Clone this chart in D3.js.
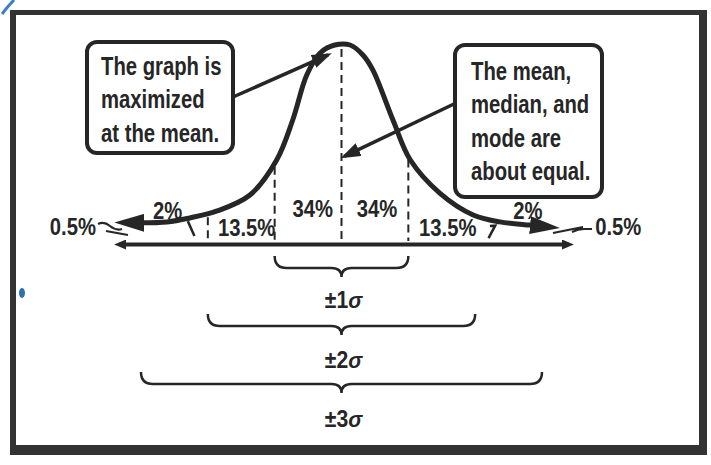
<!DOCTYPE html>
<html>
<head>
<meta charset="utf-8">
<script src="https://cdn.jsdelivr.net/npm/d3@7"></script>
<style>
  body { margin: 0; background: #fff; }
</style>
</head>
<body>
<div id="chart"></div>
<script>
// curve: z in sigma units, h relative to the peak height
const curveZ = [-3.1, -2.61, -2.27, -1.86, -1.37, -0.97, -0.73, -0.52, -0.32, -0.1, 0.13, 0.32, 0.47, 0.77, 1.03, 1.47, 1.97, 2.37, 2.82, 2.97];
const curveH = [0.107, 0.111, 0.131, 0.166, 0.246, 0.422, 0.623, 0.849, 0.96, 1.0, 1.0, 0.95, 0.874, 0.623, 0.422, 0.256, 0.146, 0.111, 0.095, 0.09];

// percentage labels and where they sit (z, height)
const pctLabels = ["0.5%", "2%", "13.5%", "34%", "34%", "13.5%", "2%", "0.5%"];
const pctZ = [-4.02, -2.6, -1.42, -0.43, 0.53, 1.59, 2.79, 4.14];
const pctH = [0.045, 0.126, 0.04, 0.136, 0.136, 0.04, 0.126, 0.045];

// dashed dividers (sigma units)
const dashZ = [-2, -1, 0, 1];

// horizontal axis extent
const axisZ = [-3.32, 3.38];

// the +/- k sigma braces
const sigmaK = [1, 2, 3];

// callout texts
const noteLeft = ["The graph is", "maximized", "at the mean."];
const noteRight = ["The mean,", "median, and", "mode are", "about equal."];

const W = 711, H = 465;
const ink = "#262626";
const font = "'Liberation Sans', Arial, sans-serif";

const svg = d3.select("#chart").append("svg")
    .attr("width", W)
    .attr("height", H);

const x = d3.scaleLinear().domain([-3, 3]).range([141, 542]);
const y = d3.scaleLinear().domain([0, 1]).range([244, 45]);
const hAt = d3.scaleLinear().domain(curveZ).range(curveH);

// arrow heads
const defs = svg.append("defs");
function arrow(id, len, half, ref) {
  defs.append("marker")
      .attr("id", id)
      .attr("markerUnits", "userSpaceOnUse")
      .attr("viewBox", `0 ${-half} ${len} ${2 * half}`)
      .attr("markerWidth", len)
      .attr("markerHeight", 2 * half)
      .attr("refX", ref)
      .attr("refY", 0)
      .attr("orient", "auto-start-reverse")
    .append("path")
      .attr("d", `M0,${-half}L${len},0L0,${half}Z`)
      .attr("fill", ink);
}
arrow("tail", 30, 9, 10);
arrow("axisHead", 12, 5, 6);
arrow("pointer", 20, 7, 16);

// frame
const frame = svg.append("g").attr("stroke", "#333").attr("fill", "none");
frame.append("line").attr("x1", 10).attr("x2", 707).attr("y1", 12.5).attr("y2", 12.5).attr("stroke-width", 5);
frame.append("line").attr("x1", 13).attr("x2", 13).attr("y1", 10).attr("y2", 455).attr("stroke-width", 6);
frame.append("line").attr("x1", 703).attr("x2", 703).attr("y1", 10).attr("y2", 455).attr("stroke-width", 8);
frame.append("line").attr("x1", 10).attr("x2", 707).attr("y1", 450).attr("y2", 450).attr("stroke-width", 10);

// a couple of blue ink marks from the scan
svg.append("path").attr("d", "M2,14 Q8,6 14,0").attr("stroke", "#3b7fc4").attr("stroke-width", 3).attr("fill", "none");
svg.append("ellipse").attr("cx", 22).attr("cy", 293).attr("rx", 3).attr("ry", 5).attr("fill", "#2f6fb5");

const g = svg.append("g");

// axis
const xAxisScale = x.copy().domain(axisZ).range(axisZ.map(x));
g.append("g")
    .attr("transform", `translate(0,${y(0)})`)
    .call(d3.axisBottom(xAxisScale).tickValues([]).tickSizeOuter(0))
    .call(a => a.select(".domain")
        .attr("stroke", ink)
        .attr("stroke-width", 4)
        .attr("marker-start", "url(#axisHead)")
        .attr("marker-end", "url(#axisHead)"));

// dashed dividers
g.selectAll(".div")
  .data(dashZ)
  .join("line")
    .attr("class", "div")
    .attr("x1", d => x(d)).attr("x2", d => x(d))
    .attr("y1", d => y(hAt(d)) + 4)
    .attr("y2", y(0) - 3)
    .attr("stroke", ink)
    .attr("stroke-width", 2)
    .attr("stroke-dasharray", "8,5");

// little slanted marks near +/-2 sigma
g.append("path")
    .attr("d", `M${x(-2.3)},${y(0.115)}L${x(-2.2)},${y(0.04)}`)
    .attr("stroke", ink).attr("stroke-width", 2.5);
g.append("path")
    .attr("d", `M${x(2.22)},${y(0.09)}L${x(2.3)},${y(0.092)}L${x(2.2)},${y(0.03)}`)
    .attr("stroke", ink).attr("stroke-width", 2.5).attr("fill", "none");

// the curve
const line = d3.line()
    .x((d, i) => x(curveZ[i]))
    .y(d => y(d))
    .curve(d3.curveCatmullRom.alpha(0.5));
g.append("path")
    .datum(curveH)
    .attr("d", line)
    .attr("fill", "none")
    .attr("stroke", ink)
    .attr("stroke-width", 5)
    .attr("marker-start", "url(#tail)")
    .attr("marker-end", "url(#tail)");

// squiggles joining the 0.5% labels
g.append("path")
    .attr("d", `M98,224 Q104,221 110,226 T122,229 M106,231 L128,235`)
    .attr("stroke", ink).attr("stroke-width", 2.2).attr("fill", "none");
g.append("path")
    .attr("d", `M553,233 L583,227 M572,232 Q578,229 584,229 L592,229`)
    .attr("stroke", ink).attr("stroke-width", 2.2).attr("fill", "none");

// percentage labels (the print uses a condensed face, so squeeze a little)
g.selectAll(".pct")
  .data(pctLabels)
  .join("text")
    .attr("class", "pct")
    .attr("transform", (d, i) => `translate(${x(pctZ[i])},${y(pctH[i])}) scale(0.88,1)`)
    .attr("text-anchor", "middle")
    .attr("font-family", font)
    .attr("font-weight", "bold")
    .attr("font-size", 23)
    .attr("fill", ink)
    .text(d => d);

// braces
function brace(x1, x2, top) {
  const yh = top + 12, tip = top + 21, c = (x1 + x2) / 2;
  return `M${x1},${top} Q${x1},${yh} ${x1 + 12},${yh} L${c - 10},${yh} Q${c},${yh} ${c},${tip}` +
         ` Q${c},${yh} ${c + 10},${yh} L${x2 - 12},${yh} Q${x2},${yh} ${x2},${top}`;
}
const braces = g.selectAll(".brace")
  .data(sigmaK)
  .join("g")
    .attr("class", "brace");
braces.append("path")
    .attr("d", k => brace(x(-k), x(k), 256 + (k - 1) * 58))
    .attr("fill", "none")
    .attr("stroke", ink)
    .attr("stroke-width", 2.5);
const lab = braces.append("text")
    .attr("transform", k => `translate(${x(0) + 2},${308 + (k - 1) * 59.5}) scale(0.92,1)`)
    .attr("text-anchor", "middle")
    .attr("font-family", font)
    .attr("font-weight", "bold")
    .attr("font-size", 23)
    .attr("fill", ink);
lab.append("tspan").text(k => "\u00b1" + k);
lab.append("tspan").attr("font-style", "italic").text("\u03c3");

// callouts
function callout(lines, bx, by, bw, bh, tx, ty0) {
  const c = g.append("g");
  c.append("rect")
      .attr("x", bx).attr("y", by)
      .attr("width", bw).attr("height", bh)
      .attr("rx", 10)
      .attr("fill", "#fff")
      .attr("stroke", ink)
      .attr("stroke-width", 4);
  c.selectAll("text")
    .data(lines)
    .join("text")
      .attr("transform", (d, i) => `translate(${tx},${ty0 + i * 33.3}) scale(0.78,1)`)
      .attr("font-family", font)
      .attr("font-weight", "bold")
      .attr("font-size", 26)
      .attr("fill", ink)
      .text(d => d);
}
callout(noteLeft, 87, 42, 146, 111, 101, 75);
callout(noteRight, 455, 45, 147, 152, 471, 80);

// pointer arrows
g.append("line")
    .attr("x1", 233).attr("y1", 97)
    .attr("x2", x(-0.2)).attr("y2", y(0.95))
    .attr("stroke", ink).attr("stroke-width", 3.5)
    .attr("marker-end", "url(#pointer)");
g.append("line")
    .attr("x1", 456).attr("y1", 103)
    .attr("x2", x(0.04)).attr("y2", y(0.44))
    .attr("stroke", ink).attr("stroke-width", 3.5)
    .attr("marker-end", "url(#pointer)");
</script>
</body>
</html>
